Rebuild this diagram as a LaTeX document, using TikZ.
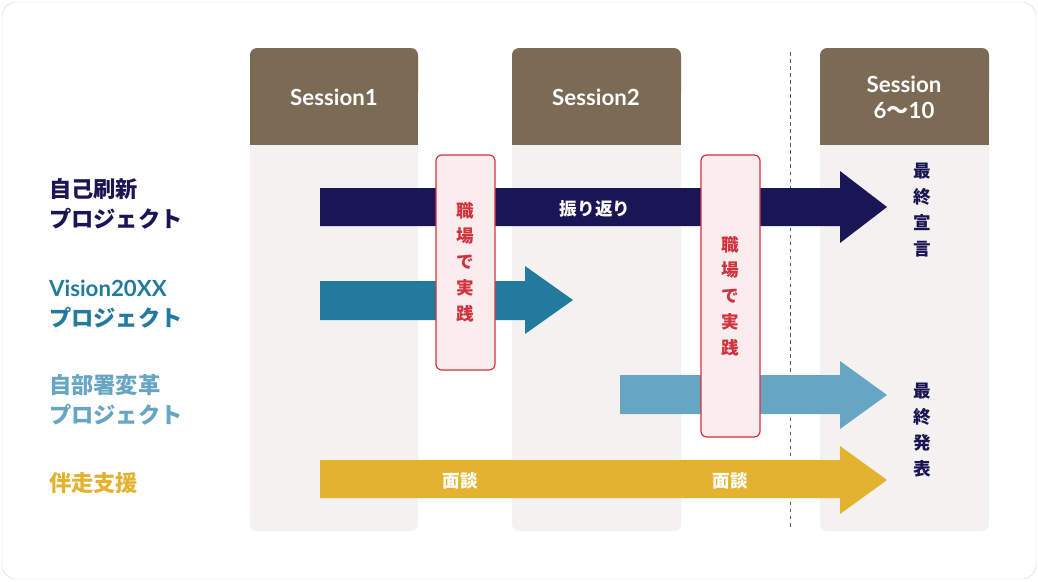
\documentclass[tikz,border=0pt]{standalone}
\usepackage{fontspec}
\setmainfont{Lato}
\newfontfamily\cjk{Noto Sans CJK JP}
\definecolor{brown}{HTML}{7B6B55}
\definecolor{colbg}{HTML}{F4F2F0}
\definecolor{navy}{HTML}{1A1655}
\definecolor{teal}{HTML}{227A9E}
\definecolor{sky}{HTML}{67A6C2}
\definecolor{gold}{HTML}{E3B22E}
\definecolor{redline}{HTML}{D0323E}
\definecolor{redbg}{HTML}{FBEDED}
\begin{document}
\begin{tikzpicture}[x=0.03cm, y=-0.03cm,
  head/.style={fill=brown, text=white, font=\bfseries\fontsize{19}{22}\selectfont, align=center},
  lbl/.style={anchor=west, font=\cjk\bfseries\fontsize{19}{26}\selectfont, align=left},
  inner/.style={text=white, font=\cjk\bfseries\fontsize{15}{17}\selectfont},
  practice/.style={draw=redline, fill=redbg, line width=1pt, rounded corners=5pt},
  vtext/.style={font=\cjk\bfseries\fontsize{15}{22}\selectfont, align=center}]
% frame
\useasboundingbox (0,0) rectangle (1038,581);
\draw[gray!30, fill=white, rounded corners=12pt] (2,2) rectangle (1036,579);
% columns
\foreach \xa/\xb in {250/418, 512/681, 820/989} {
  \fill[colbg, rounded corners=6pt] (\xa,140) rectangle (\xb,531);
  \fill[brown, rounded corners=6pt] (\xa,48) rectangle (\xb,100);
  \fill[brown] (\xa,80) rectangle (\xb,145);
}
\node[head] (s1) at (334,97) {Session1};
\node[head] (s2) at (596,97) {Session2};
\node[head] (s3) at (904,97) {Session\\6{\cjk ～}10};
\draw[dashed, gray!70!black] (790,52) -- (790,528);
% row labels
\node[lbl, text=navy] (r1) at (45,204) {自己刷新\\プロジェクト};
\node[lbl, text=teal] (r2) at (45,304) {{\bfseries\fontspec{Lato}Vision20XX}\\プロジェクト};
\node[lbl, text=sky] (r3) at (45,400) {自部署変革\\プロジェクト};
\node[lbl, text=gold] (r4) at (45,483) {伴走支援};
% block arrows
\fill[navy] (320,188) -- (840,188) -- (840,171) -- (887,207) -- (840,243) -- (840,226) -- (320,226) -- cycle;
\fill[teal] (320,281) -- (525,281) -- (525,266) -- (573,300) -- (525,334) -- (525,320) -- (320,320) -- cycle;
\fill[sky] (620,375) -- (840,375) -- (840,361) -- (887,395) -- (840,429) -- (840,414) -- (620,414) -- cycle;
\fill[gold] (320,460) -- (840,460) -- (840,446) -- (887,480) -- (840,514) -- (840,498) -- (320,498) -- cycle;
\node[inner] (t1) at (595,209) {振り返り};
\node[inner] (m1) at (460,481) {面談};
\node[inner] (m2) at (730,481) {面談};
% practice boxes
\draw[practice] (436,155) rectangle (495,370);
\node[vtext, text=redline] (p1) at (465.5,262) {職\\場\\で\\実\\践};
\draw[practice] (701,155) rectangle (760,437);
\node[vtext, text=redline] (p2) at (730.5,296) {職\\場\\で\\実\\践};
% final
\node[vtext, text=navy] (f1) at (922,210) {最\\終\\宣\\言};
\node[vtext, text=navy] (f2) at (922,430) {最\\終\\発\\表};
\end{tikzpicture}
\end{document}
